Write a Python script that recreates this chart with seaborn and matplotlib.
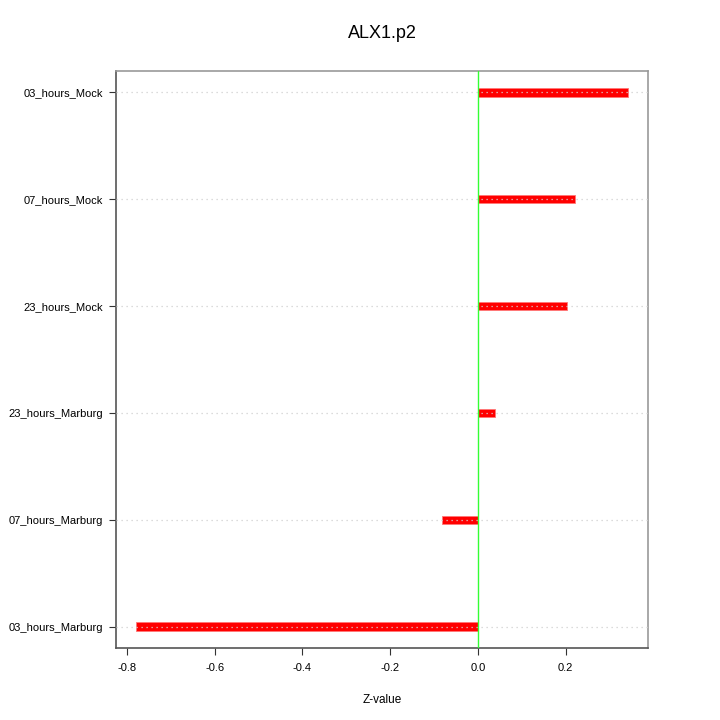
import numpy as np
import pandas as pd
import seaborn as sns
import matplotlib
matplotlib.use("Agg")
from matplotlib import pyplot as plt

sns.set_style("white")
plt.rcParams['font.family'] = ['Liberation Sans', 'DejaVu Sans']
plt.rcParams['text.color'] = 'black'
plt.rcParams['xtick.color'] = 'black'
plt.rcParams['ytick.color'] = 'black'
plt.rcParams['axes.labelcolor'] = 'black'

condiciones = ["03_hours_Mock", "07_hours_Mock", "23_hours_Mock",
               "23_hours_Marburg", "07_hours_Marburg", "03_hours_Marburg"]
zvalores = [0.342, 0.221, 0.203, 0.039, -0.082, -0.780]

df = pd.DataFrame({"cond": condiciones, "z": zvalores})

fig = plt.figure(figsize=(7.2, 7.2), dpi=100)
ax = fig.add_axes([0.161, 0.1, 0.739, 0.8014])

# lineas punteadas de cada categoria
for i in range(len(condiciones)):
    ax.axhline(i, color="#d0d0d0", lw=0.9, ls=(0, (1, 3)), zorder=3)

sns.barplot(data=df, x="z", y="cond", orient="h", color="red",
            saturation=1, width=0.08, ax=ax, zorder=2,
            edgecolor="#ff7777", linewidth=0.6)

ax.axvline(0, color="#33ff33", lw=1, zorder=4)

ax.set_xlim(-0.825, 0.388)
ax.set_ylim(5.2, -0.2)
ax.set_xticks([-0.8, -0.6, -0.4, -0.2, 0.0, 0.2])
ax.set_xticklabels(["-0.8", "-0.6", "-0.4", "-0.2", "0.0", "0.2"])
ax.set_xlabel("Z-value", fontsize=8.5, labelpad=15)
ax.set_ylabel("")
ax.set_title("ALX1.p2", fontsize=13, pad=24)

for lado in ["top", "right"]:
    ax.spines[lado].set_color("#999999")
    ax.spines[lado].set_linewidth(1.2)
for lado in ["left", "bottom"]:
    ax.spines[lado].set_color("#555555")
    ax.spines[lado].set_linewidth(1.2)

ax.tick_params(axis="both", direction="out", length=5, width=0.8,
               color="#333333", labelsize=8, left=True, bottom=True)
ax.tick_params(axis="x", pad=6)
ax.tick_params(axis="y", pad=4)

fig.savefig("out.png", dpi=100)
